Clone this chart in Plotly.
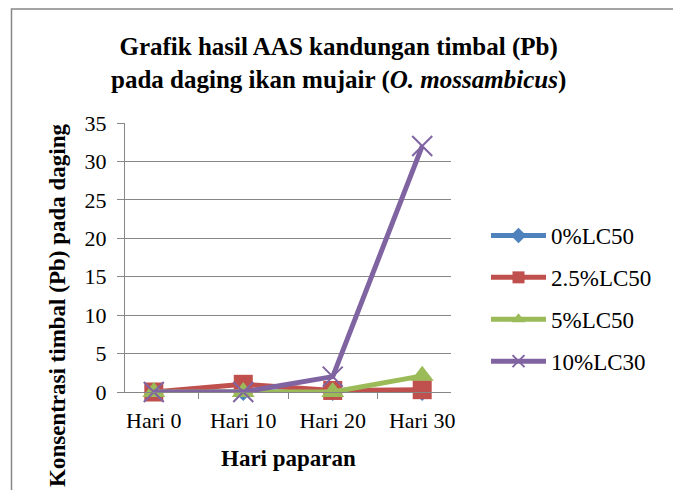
import plotly.graph_objects as go

categories = ["Hari 0", "Hari 10", "Hari 20", "Hari 30"]
series_names = ["0%LC50", "2.5%LC50", "5%LC50", "10%LC30"]
s0 = [0, 0, 0, 0]
s25 = [0, 1.0, 0.2, 0.3]
s5 = [0, 0, 0, 2.1]
s10 = [0, 0, 2.0, 32]
values = [s0, s25, s5, s10]

colors = ["#4F81BD", "#C0504D", "#9BBB59", "#8064A2"]
symbols = ["diamond", "square", "triangle-up", "x-thin-open"]
sizes = [14, 19, 20, 20]

FONT = "'Times New Roman', 'Liberation Serif', Times, serif"
OFF = 8  # page body margin
W, H = 681 - 2 * OFF, 498 - 2 * OFF
L, R, T, B = 125 - OFF, 451 - OFF, 123 - OFF, 392 - OFF


def px(x):
    return (x - OFF - L) / (R - L)


def py(y):
    return (B - (y - OFF)) / (B - T)


fig = go.Figure()
for i, (name, vals) in enumerate(zip(series_names, values)):
    marker = dict(symbol=symbols[i], size=sizes[i], color=colors[i])
    if symbols[i] == "x-thin-open":
        marker["line"] = dict(color=colors[i], width=2)
    fig.add_trace(go.Scatter(
        x=categories, y=vals, name=name, mode="lines+markers",
        line=dict(color=colors[i], width=5),
        marker=marker, cliponaxis=False, legendgroup=name,
    ))

grey = "#868686"

fig.update_layout(
    width=W, height=H,
    margin=dict(l=L, r=W - R, t=T, b=H - B, pad=0, autoexpand=False),
    paper_bgcolor="white", plot_bgcolor="white",
    font=dict(family=FONT, size=22, color="black"),
    showlegend=True,
    legend=dict(x=px(486), y=py(214), xanchor="left", yanchor="top",
                font=dict(family=FONT, size=23, color="black"),
                tracegroupgap=9, itemwidth=55, itemsizing="constant",
                bgcolor="rgba(0,0,0,0)"),
    xaxis=dict(type="category", showline=True, linecolor=grey, linewidth=1,
               ticks="outside", tickson="boundaries", ticklen=6, tickcolor=grey,
               showgrid=False, zeroline=False, automargin=False,
               ticklabelstandoff=9,
               tickfont=dict(family=FONT, size=22, color="black")),
    yaxis=dict(range=[0, 35], dtick=5, showline=True, linecolor=grey, linewidth=1,
               ticks="outside", ticklen=7, tickcolor=grey,
               showgrid=True, gridcolor=grey, gridwidth=1, zeroline=False,
               ticklabelstandoff=6, automargin=False,
               tickfont=dict(family=FONT, size=22, color="black")),
    shapes=[dict(type="rect", xref="paper", yref="paper",
                 x0=px(11.5), x1=px(677), y0=py(520), y1=py(9),
                 line=dict(color=grey, width=1.5), fillcolor="rgba(0,0,0,0)", layer="below")],
    annotations=[
        dict(text="<b>Grafik hasil AAS kandungan timbal (Pb)<br>pada daging ikan mujair (<i>O. mossambicus</i>)</b>",
             xref="paper", yref="paper", x=px(338), y=py(63.5), showarrow=False,
             xanchor="center", yanchor="middle",
             font=dict(family=FONT, size=25, color="black")),
        dict(text="<b>Konsentrasi timbal (Pb) pada daging</b>", textangle=-90,
             xref="paper", yref="paper", x=px(57), y=py(306), showarrow=False,
             xanchor="center", yanchor="middle",
             font=dict(family=FONT, size=23, color="black")),
        dict(text="<b>Hari paparan</b>",
             xref="paper", yref="paper", x=px(288), y=py(458), showarrow=False,
             xanchor="center", yanchor="middle",
             font=dict(family=FONT, size=23, color="black")),
    ],
)

fig.write_html("out.html")
